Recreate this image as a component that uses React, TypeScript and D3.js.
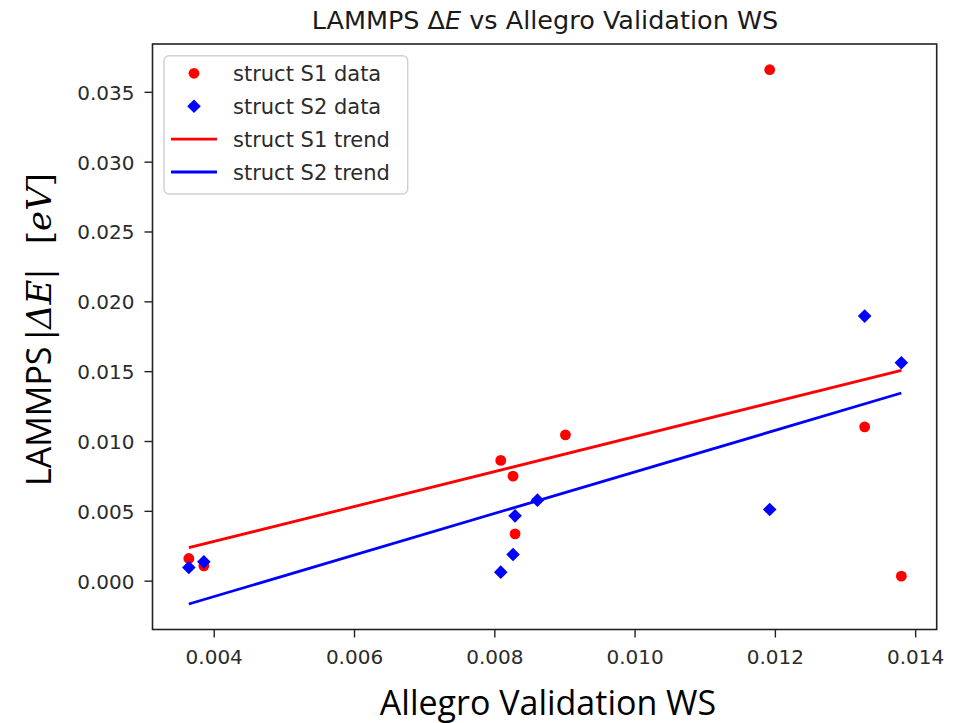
import React from "react";
import * as d3 from "d3";

// Allegro validation WS (x) vs LAMMPS |ΔE| in eV (y)
const s1X = [0.003638, 0.003852, 0.008085, 0.008260, 0.008289, 0.009007, 0.011919, 0.013273, 0.013796];
const s1Y = [0.001626, 0.001096, 0.008645, 0.007521, 0.003388, 0.010479, 0.036620, 0.011052, 0.000358];
const s2X = [0.003638, 0.003852, 0.008085, 0.008260, 0.008289, 0.008608, 0.011919, 0.013273, 0.013796];
const s2Y = [0.000981, 0.001382, 0.000645, 0.001913, 0.004677, 0.005802, 0.005135, 0.018980, 0.015638];

const xTicks = [0.004, 0.006, 0.008, 0.01, 0.012, 0.014];
const yTicks = [0, 0.005, 0.01, 0.015, 0.02, 0.025, 0.03, 0.035];

const legendLabels = ["struct S1 data", "struct S2 data", "struct S1 trend", "struct S2 trend"];

const W = 960;
const H = 723;
const left = 152.5;
const right = 936.7;
const top = 44;
const bottom = 629.5;

// ordinary least-squares line through a series
function fit(xs: number[], ys: number[]) {
  const mx = d3.mean(xs)!;
  const my = d3.mean(ys)!;
  let sxy = 0;
  let sxx = 0;
  xs.forEach((x, i) => {
    sxy += (x - mx) * (ys[i] - my);
    sxx += (x - mx) * (x - mx);
  });
  const slope = sxy / sxx;
  const x0 = d3.min(xs)!;
  const x1 = d3.max(xs)!;
  return [
    [x0, my + slope * (x0 - mx)],
    [x1, my + slope * (x1 - mx)],
  ] as [number, number][];
}

export default function App() {
  const x = d3.scaleLinear().domain([0.00312, 0.0143]).range([left, right]);
  const y = d3.scaleLinear().domain([-0.00346, 0.03846]).range([bottom, top]);
  const line = d3
    .line<[number, number]>()
    .x((d) => x(d[0]))
    .y((d) => y(d[1]));

  const t1 = fit(s1X, s1Y);
  const t2 = fit(s2X, s2Y);

  const diamond = (cx: number, cy: number, r: number) =>
    `M${cx},${cy - r}L${cx + r},${cy}L${cx},${cy + r}L${cx - r},${cy}Z`;

  const tickFont = "'DejaVu Sans', sans-serif";
  const tickColor = "#2b2b2b";
  const legendRows = [73.3, 106.2, 139.1, 172];

  return (
    <svg
      width={W}
      height={H}
      style={{ position: "absolute", left: 0, top: 0, background: "#fff" }}
    >
      <rect x={0} y={0} width={W} height={H} fill="#fff" />

      {/* title */}
      <text
        x={545}
        y={29}
        textAnchor="middle"
        fontFamily={tickFont}
        fontSize={25.5}
        fill="#1a1a1a"
      >
        LAMMPS Δ<tspan fontStyle="italic">E</tspan> vs Allegro Validation WS
      </text>

      {/* data */}
      <g>
        {s1X.map((v, i) => (
          <circle key={"a" + i} cx={x(v)} cy={y(s1Y[i])} r={5.4} fill="#ff0000" />
        ))}
        {s2X.map((v, i) => (
          <path key={"b" + i} d={diamond(x(v), y(s2Y[i]), 6.8)} fill="#0000ff" />
        ))}
        <path d={line(t1)!} stroke="#ff0000" strokeWidth={2.8} fill="none" />
        <path d={line(t2)!} stroke="#0000ff" strokeWidth={2.8} fill="none" />
      </g>

      {/* frame */}
      <rect
        x={left}
        y={top}
        width={right - left}
        height={bottom - top}
        fill="none"
        stroke="#222"
        strokeWidth={1.6}
      />

      {/* x axis */}
      {xTicks.map((t) => (
        <g key={"x" + t}>
          <line x1={x(t)} x2={x(t)} y1={bottom} y2={bottom + 8} stroke="#222" strokeWidth={1.4} />
          <text
            x={x(t)}
            y={663.5}
            textAnchor="middle"
            fontFamily={tickFont}
            fontSize={20}
            fill={tickColor}
          >
            {d3.format(".3f")(t)}
          </text>
        </g>
      ))}

      {/* y axis */}
      {yTicks.map((t) => (
        <g key={"y" + t}>
          <line x1={left - 8} x2={left} y1={y(t)} y2={y(t)} stroke="#222" strokeWidth={1.4} />
          <text
            x={134.5}
            y={y(t) + 7.4}
            textAnchor="end"
            fontFamily={tickFont}
            fontSize={20}
            fill={tickColor}
          >
            {d3.format(".3f")(t)}
          </text>
        </g>
      ))}

      {/* axis titles */}
      <text
        x={548}
        y={714.5}
        textAnchor="middle"
        fontFamily="'Open Sans', sans-serif"
        fontSize={34}
        fill="#000"
      >
        Allegro Validation WS
      </text>
      <text
        transform="translate(51,486) rotate(-90)"
        fontSize={34}
        fill="#000"
      >
        <tspan fontFamily="'Open Sans', sans-serif">LAMMPS</tspan>
        <tspan dx={6} fontFamily="'DejaVu Serif', serif">|</tspan>
        <tspan fontFamily="'DejaVu Serif', serif" fontStyle="italic">ΔE</tspan>
        <tspan fontFamily="'DejaVu Serif', serif">|</tspan>
        <tspan dx={24} fontFamily="'DejaVu Serif', serif">[</tspan>
        <tspan fontFamily="'DejaVu Serif', serif" fontStyle="italic">eV</tspan>
        <tspan fontFamily="'DejaVu Serif', serif">]</tspan>
      </text>

      {/* legend */}
      <rect
        x={164}
        y={55.7}
        width={243.7}
        height={138.3}
        rx={5}
        fill="#fff"
        fillOpacity={0.8}
        stroke="#d0d0d0"
        strokeWidth={1.4}
      />
      <circle cx={194} cy={legendRows[0]} r={5.4} fill="#ff0000" />
      <path d={diamond(194, legendRows[1], 6.8)} fill="#0000ff" />
      <line x1={171} x2={217} y1={legendRows[2]} y2={legendRows[2]} stroke="#ff0000" strokeWidth={2.8} />
      <line x1={171} x2={217} y1={legendRows[3]} y2={legendRows[3]} stroke="#0000ff" strokeWidth={2.8} />
      {legendLabels.map((l, i) => (
        <text
          key={l}
          x={233}
          y={legendRows[i] + 7.6}
          fontFamily={tickFont}
          fontSize={21}
          fill={tickColor}
        >
          {l}
        </text>
      ))}
    </svg>
  );
}
